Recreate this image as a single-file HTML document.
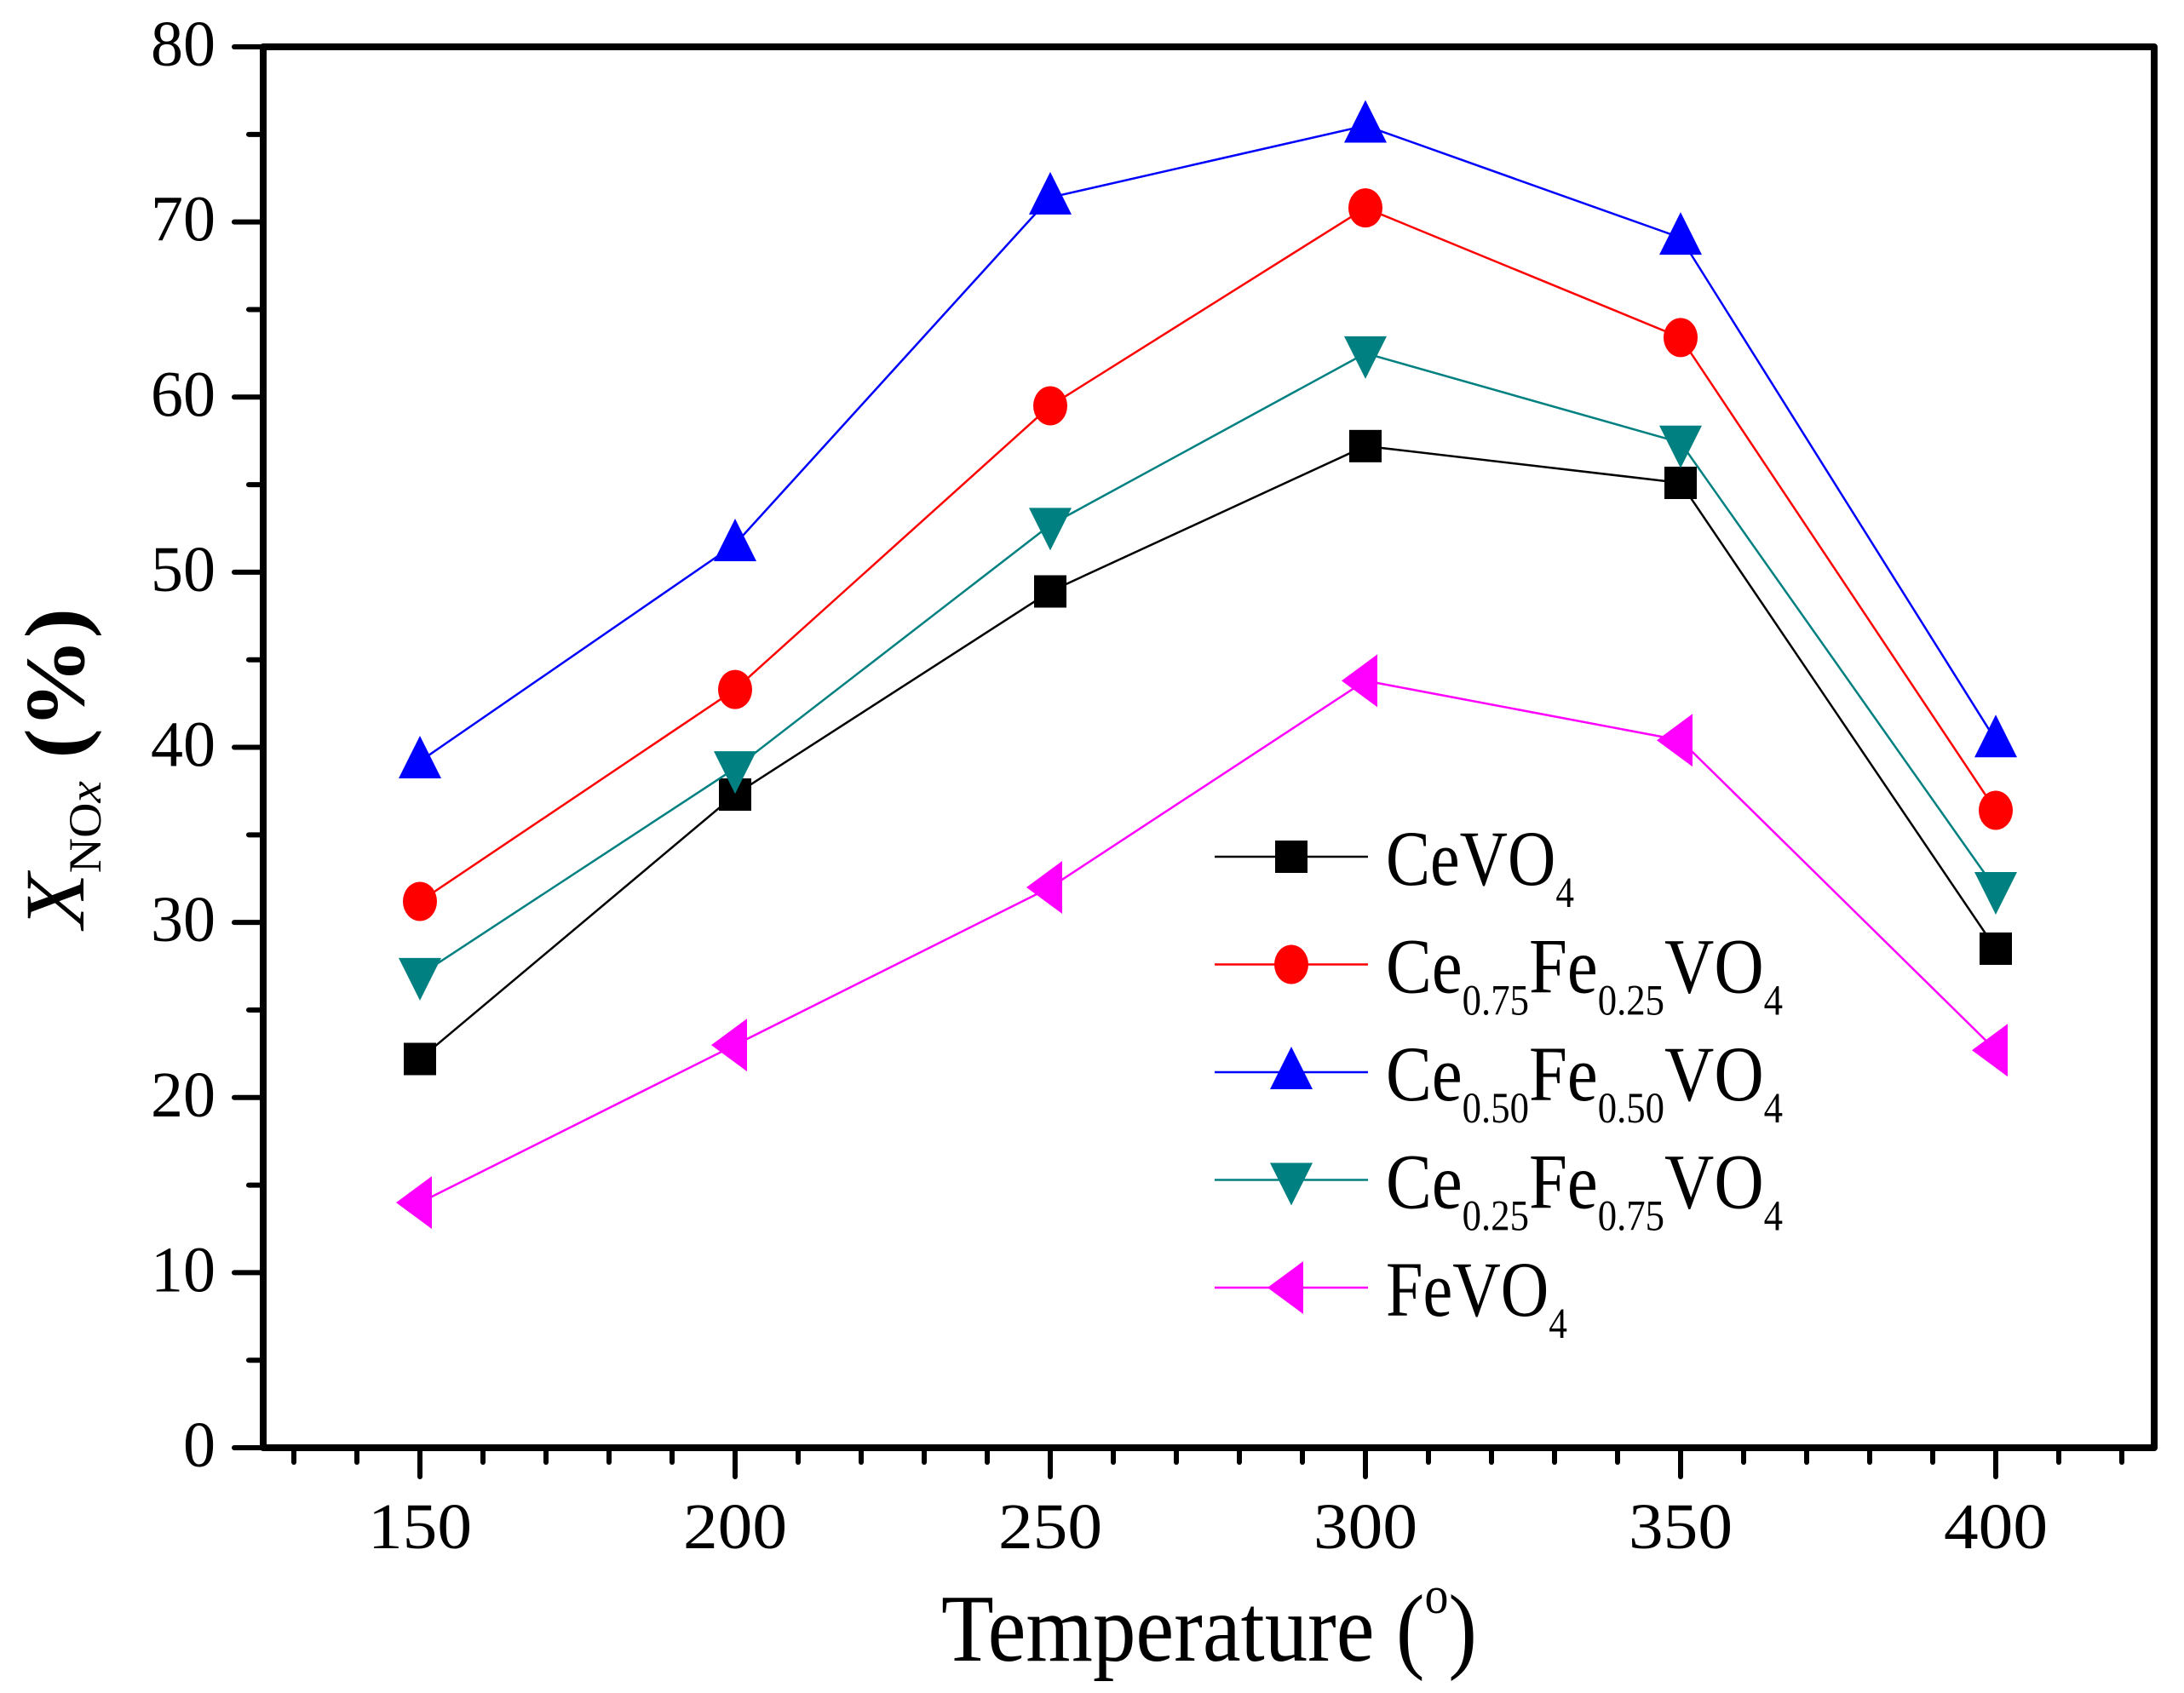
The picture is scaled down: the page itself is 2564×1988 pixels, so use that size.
<!DOCTYPE html>
<html><head><meta charset="utf-8"><style>
html,body{margin:0;padding:0;background:#fff}
svg{display:block}
svg text{font-family:"Liberation Serif","Times New Roman",Times,"Tinos",serif;fill:#000}
</style></head><body>
<svg id="chart" width="2564" height="1988" viewBox="0 0 2564 1988" xmlns="http://www.w3.org/2000/svg" font-family="Liberation Serif, Times New Roman, serif">
<g id="axes"></g>
<g id="series"></g>
<g id="legend"></g>
<text x="1105" y="1950" font-size="112" textLength="629" lengthAdjust="spacingAndGlyphs">Temperature (<tspan font-size="62" dy="-56">o</tspan><tspan dy="56">)</tspan></text>
<g transform="translate(98,1090) rotate(-90)">
<text x="0" y="0" font-size="100" textLength="376" lengthAdjust="spacingAndGlyphs"><tspan font-style="italic">X</tspan><tspan font-size="54" dy="20">NO<tspan font-style="italic">x</tspan></tspan><tspan dy="-20" font-weight="bold"> (%)</tspan></text>
</g>
</svg>
<script>
const temps=[150,200,250,300,350,400];
const ceVO4=[22.2,37.3,48.9,57.2,55.1,28.5];
const ce75=[31.2,43.3,59.5,70.8,63.4,36.4];
const ce50=[39.2,51.6,71.4,75.5,69.1,40.4];
const ce25=[27.0,38.8,52.7,62.5,57.4,31.9];
const feVO4=[14.0,23.0,32.0,43.8,40.4,22.7];
const xTicks=[150,200,250,300,350,400];
const yTicks=[0,10,20,30,40,50,60,70,80];

const NS="http://www.w3.org/2000/svg";
const L=309,R=2529,T=55,B=1700;
function sx(v){return 493+(v-150)*(2343-493)/250;}
function sy(v){return B-(v)*(B-T)/80;}
function mk(tag,attrs,parent){const e=document.createElementNS(NS,tag);for(const k in attrs)e.setAttribute(k,attrs[k]);parent.appendChild(e);return e;}

const axes=document.getElementById('axes');
const frame=mk('rect',{x:L,y:T,width:R-L,height:B-T,fill:'none',stroke:'#000','stroke-width':8,'stroke-linejoin':'round'},axes);


for(let v=130;v<=420;v+=10){
  const major=xTicks.includes(v);
  const t=mk('line',{x1:sx(v),x2:sx(v),y1:B,y2:B+(major?34:17),stroke:'#000','stroke-width':6,'stroke-linecap':'round'},axes);
  
  
}
xTicks.forEach(v=>{
  const t=mk('text',{x:sx(v),y:B+118,'font-size':76,'text-anchor':'middle',textLength:122,lengthAdjust:'spacingAndGlyphs'},axes);
  t.textContent=v;
  
  
});
for(let v=0;v<=80;v+=5){
  const major=v%10===0;
  const t=mk('line',{x1:L,x2:L-(major?34:17),y1:sy(v),y2:sy(v),stroke:'#000','stroke-width':6,'stroke-linecap':'round'},axes);
  
  
}
yTicks.forEach(v=>{
  const attrs={x:253,y:sy(v)+22,'font-size':76,'text-anchor':'end'};
  if(v>0){attrs.textLength=76;attrs.lengthAdjust='spacingAndGlyphs';}
  const t=mk('text',attrs,axes);
  t.textContent=v;
  
  
});

function marker(type,x,y,color,parent){
  let e;
  if(type==='square')e=mk('rect',{x:x-19,y:y-19,width:38,height:38,fill:color},parent);
  else if(type==='circle')e=mk('ellipse',{cx:x,cy:y,rx:20,ry:23,fill:color},parent);
  else if(type==='up')e=mk('polygon',{points:`${x},${y-30} ${x-25},${y+20} ${x+25},${y+20}`,fill:color},parent);
  else if(type==='down')e=mk('polygon',{points:`${x},${y+30} ${x-25},${y-20} ${x+25},${y-20}`,fill:color},parent);
  else e=mk('polygon',{points:`${x-28},${y} ${x+14},${y-31} ${x+14},${y+31}`,fill:color},parent);
  return e;
}
const defs=[
 {vals:ceVO4,color:'#000000',type:'square',name:'cevo4',w:221,lab:[['CeVO',''],['4','s']]},
 {vals:ce75,color:'#ff0000',type:'circle',name:'ce075fe025vo4',w:466,lab:[['Ce',''],['0.75','s'],['Fe',''],['0.25','s'],['VO',''],['4','s']]},
 {vals:ce50,color:'#0000ff',type:'up',name:'ce050fe050vo4',w:466,lab:[['Ce',''],['0.50','s'],['Fe',''],['0.50','s'],['VO',''],['4','s']]},
 {vals:ce25,color:'#008080',type:'down',name:'ce025fe075vo4',w:466,lab:[['Ce',''],['0.25','s'],['Fe',''],['0.75','s'],['VO',''],['4','s']]},
 {vals:feVO4,color:'#ff00ff',type:'left',name:'fevo4',w:213,lab:[['FeVO',''],['4','s']]}
];
const series=document.getElementById('series');
defs.forEach(d=>{
  const g=mk('g',{},series);
  
  
  const pts=temps.map((t,i)=>sx(t)+','+sy(d.vals[i])).join(' ');
  const pl=mk('polyline',{points:pts,fill:'none',stroke:d.color,'stroke-width':2.5},g);
  
  
  temps.forEach((t,i)=>{
    const m=marker(d.type,sx(t),sy(d.vals[i]),d.color,g);
    
    
  });
});
const legend=document.getElementById('legend');
defs.forEach((d,i)=>{
  const y=1006+i*126.5;
  const g=mk('g',{},legend);
  
  
  mk('line',{x1:1426,x2:1606,y1:y,y2:y,stroke:d.color,'stroke-width':2.5},g);
  marker(d.type,1516,y,d.color,g);
  const t=mk('text',{x:1627,y:y+33,'font-size':92,textLength:d.w,lengthAdjust:'spacingAndGlyphs'},g);
  let prev='';
  d.lab.forEach(([s,k])=>{
    const ts=document.createElementNS(NS,'tspan');
    if(k==='s'){ts.setAttribute('font-size','51');if(prev!=='s')ts.setAttribute('dy','26');}
    else if(prev==='s'){ts.setAttribute('dy','-26');}
    ts.textContent=s;t.appendChild(ts);prev=k;
  });
});
</script>
</body></html>
